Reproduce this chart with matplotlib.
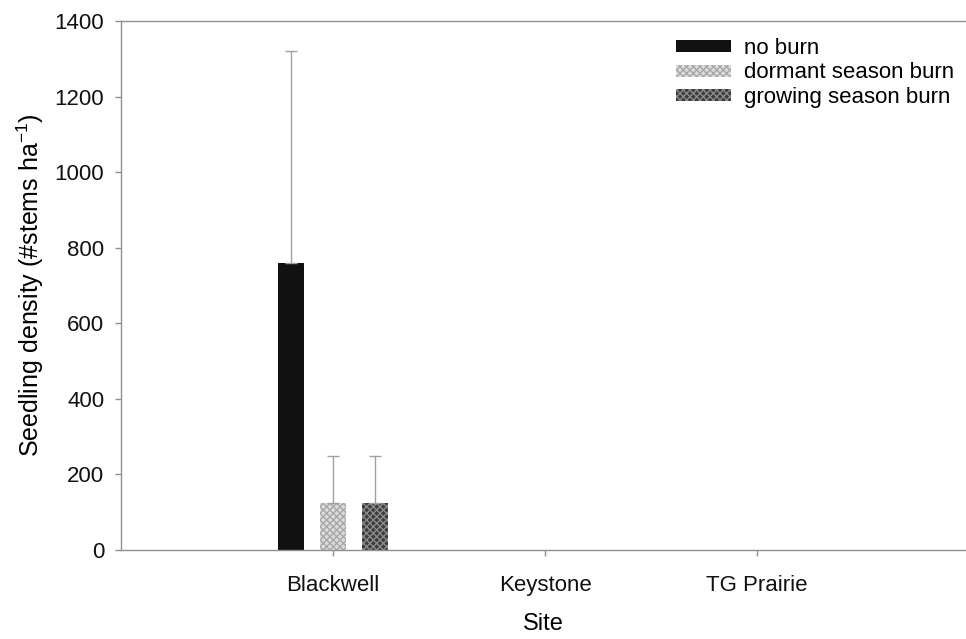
import numpy as np
import matplotlib.pyplot as plt

plt.rcParams['font.family'] = ['Liberation Sans', 'DejaVu Sans']

sites = ["Blackwell", "Keystone", "TG Prairie"]
treatments = ["no burn", "dormant season burn", "growing season burn"]
no_burn = [760, 0, 0]
dormant_burn = [125, 0, 0]
growing_burn = [125, 0, 0]
no_burn_se = [560, 0, 0]
dormant_burn_se = [125, 0, 0]
growing_burn_se = [125, 0, 0]

means = [no_burn, dormant_burn, growing_burn]
errs = [no_burn_se, dormant_burn_se, growing_burn_se]
styles = [
    dict(color="#111111", hatch=None, edgecolor="#111111"),
    dict(color="#dcdcdc", hatch="xxxxx", edgecolor="#a8a8a8"),
    dict(color="#3c3c3c", hatch="xxxxx", edgecolor="#8a8a8a"),
]

fig = plt.figure(figsize=(9.66, 6.39), dpi=100)
ax = fig.add_axes([0.1253, 0.1393, 0.8747, 0.8278])

x = np.arange(len(sites))
width = 0.123
offset = 0.198
for i, (m, e, st) in enumerate(zip(means, errs, styles)):
    pos = x + (i - 1) * offset
    ax.bar(pos, m, width, color=st["color"], hatch=st["hatch"],
           edgecolor=st["edgecolor"], linewidth=0, label=treatments[i])
    m = np.array(m)
    e = np.array(e)
    keep = e > 0
    # upper error bars only
    ax.errorbar(pos[keep], m[keep], yerr=[np.zeros(keep.sum()), e[keep]],
                fmt="none", ecolor="#a0a0a0", elinewidth=1, capsize=4,
                capthick=1)

ax.set_xlim(-1, 2.986)
ax.set_ylim(0, 1400)
ax.set_yticks(range(0, 1401, 200))
ax.set_xticks(x)
ax.set_xticklabels(sites)

for side in ["left", "top", "bottom"]:
    ax.spines[side].set_color("#909090")
    ax.spines[side].set_linewidth(1)
ax.spines["right"].set_visible(False)
ax.tick_params(axis="both", colors="#909090", labelcolor="#111111",
               labelsize=16, length=4, width=1)
ax.tick_params(axis="x", pad=14)
ax.tick_params(axis="y", pad=8)

ax.set_xlabel("Site", fontsize=17, labelpad=12)
ax.set_ylabel(r"Seedling density (#stems ha$^{\mathregular{-1}}$)", fontsize=18,
              labelpad=6)

ax.legend(loc="upper right", frameon=False, fontsize=16, handlelength=2.5,
          handleheight=0.45, handletextpad=0.55, labelspacing=0.15,
          borderpad=0.2, bbox_to_anchor=(1.004, 0.997))

fig.savefig("out.png", dpi=100)
